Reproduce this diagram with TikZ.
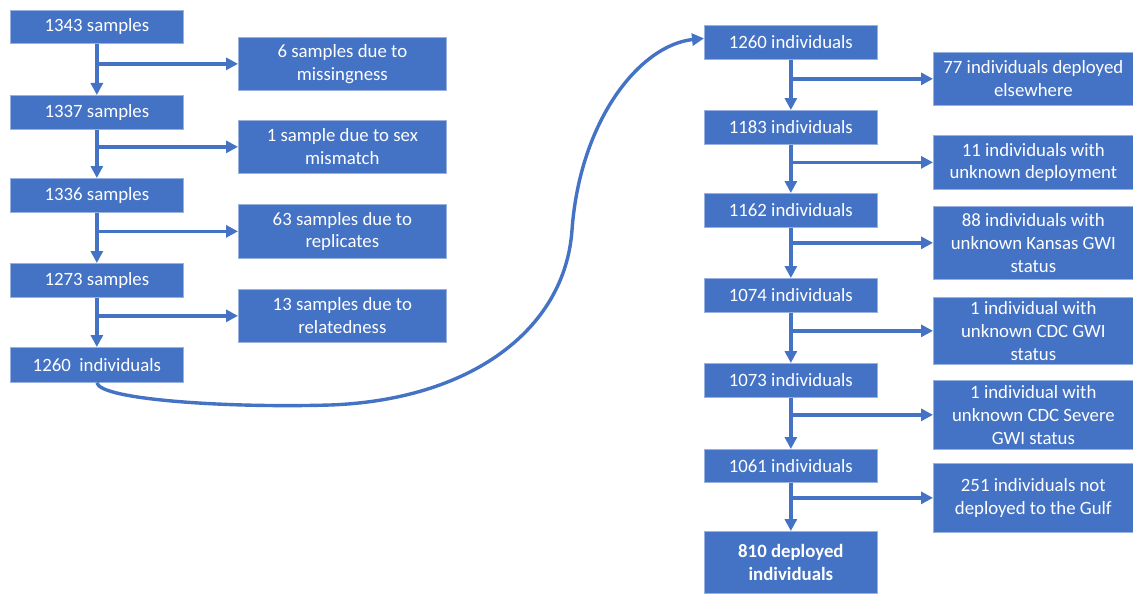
\documentclass[tikz,border=0pt]{standalone}
\usepackage{fontspec}
\setmainfont{Carlito}
\usetikzlibrary{arrows.meta,calc}
\definecolor{boxblue}{HTML}{4472C4}
\definecolor{lineblue}{HTML}{4472C4}
\begin{document}
\begin{tikzpicture}[x=1pt,y=-1pt,
  box/.style={draw=boxblue!55!white, line width=0.7pt, fill=boxblue, text=white,
    anchor=north west, inner sep=0pt, align=center,
    font=\fontsize{18.8}{22.7}\selectfont},
  arr/.style={draw=lineblue, line width=3.4pt,
    -{Triangle[length=12pt,width=12pt]}}]
\useasboundingbox (0,0) rectangle (1133,594);
\fill[white] (0,0) rectangle (1133,594);

% left main column
\node[box, minimum width=173pt, minimum height=33pt] (A1) at (10,10) {1343 samples};
\node[box, minimum width=173pt, minimum height=34pt] (A2) at (10,95) {1337 samples};
\node[box, minimum width=173pt, minimum height=34pt] (A3) at (10,178) {1336 samples};
\node[box, minimum width=173pt, minimum height=34pt] (A4) at (10,263) {1273 samples};
\node[box, minimum width=173pt, minimum height=35pt] (A5) at (10,347) {1260\ \ individuals};

% left side boxes
\node[box, minimum width=208pt, minimum height=53pt] (B1) at (238,37) {6 samples due to\\missingness};
\node[box, minimum width=208pt, minimum height=53pt] (B2) at (238,120) {1 sample due to sex\\mismatch};
\node[box, minimum width=208pt, minimum height=54pt] (B3) at (238,204) {63 samples due to\\replicates};
\node[box, minimum width=208pt, minimum height=53pt] (B4) at (238,289) {13 samples due to\\relatedness};

% right main column
\node[box, minimum width=173pt, minimum height=34pt] (C1) at (704,25) {1260 individuals};
\node[box, minimum width=173pt, minimum height=34pt] (C2) at (704,110) {1183 individuals};
\node[box, minimum width=173pt, minimum height=34pt] (C3) at (704,193) {1162 individuals};
\node[box, minimum width=173pt, minimum height=34pt] (C4) at (704,278) {1074 individuals};
\node[box, minimum width=173pt, minimum height=34pt] (C5) at (704,363) {1073 individuals};
\node[box, minimum width=173pt, minimum height=33pt] (C6) at (704,449) {1061 individuals};
\node[box, minimum width=173pt, minimum height=62pt, font=\fontsize{18.8}{22.7}\selectfont\bfseries] (C7) at (704,531) {810 deployed\\individuals};

% right side boxes
\node[box, minimum width=200pt, minimum height=53pt] (D1) at (933,52) {77 individuals deployed\\elsewhere};
\node[box, minimum width=200pt, minimum height=54pt] (D2) at (933,135) {11 individuals with\\unknown deployment};
\node[box, minimum width=200pt, minimum height=73pt] (D3) at (933,206) {88 individuals with\\unknown Kansas GWI\\status};
\node[box, minimum width=200pt, minimum height=67pt] (D4) at (933,297) {1 individual with\\unknown CDC GWI\\status};
\node[box, minimum width=200pt, minimum height=69pt] (D5) at (933,380) {1 individual with\\unknown CDC Severe\\GWI status};
\node[box, minimum width=200pt, minimum height=69pt] (D6) at (933,463) {251 individuals not\\deployed to the Gulf};

% left vertical arrows
\foreach \a/\b in {A1/A2,A2/A3,A3/A4,A4/A5}
  \draw[arr] (\a.south) -- (\b.north);
% left branches
\foreach \a/\b in {A1/B1,A2/B2,A3/B3,A4/B4}
  \draw[arr] (\a.south |- \b.west) -- (\b.west);

% right vertical arrows
\foreach \a/\b in {C1/C2,C2/C3,C3/C4,C4/C5,C5/C6,C6/C7}
  \draw[arr] (\a.south) -- (\b.north);
% right branches
\foreach \a/\b in {C1/D1,C2/D2,C3/D3,C4/D4,C5/D5,C6/D6}
  \draw[arr] (\a.south |- \b.west) -- (\b.west);

% connecting curve
\draw[arr] (A5.south) .. controls (100,400) and (230,408) .. (330,405)
  .. controls (470,400) and (565,330) .. (572,230)
  .. controls (580,120) and (640,45) .. ($(C1.west)+(0,-4)$);
\end{tikzpicture}
\end{document}
